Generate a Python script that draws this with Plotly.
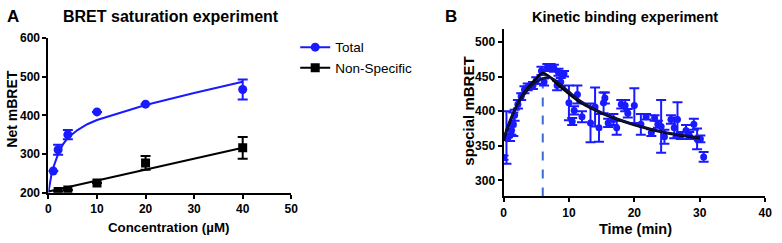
import plotly.graph_objects as go

# ---------------- Panel A data ----------------
total_x = [1, 2, 4, 10, 20, 40]
total_y = [256, 311, 350, 409, 429, 467]
total_err = [0, 13, 12, 0, 0, 26]

ns_x = [2, 4, 10, 20, 40]
ns_y = [203, 207, 225, 277, 316]
ns_err = [0, 0, 0, 18, 28]

total_fit_x = [0, 0.3, 0.6, 1, 1.5, 2, 3, 4, 6, 8, 10, 15, 20, 30, 40]
total_fit_y = [200, 225, 245, 265, 285, 300, 325, 342, 362, 377, 388, 408, 427, 458, 487]

ns_fit_x = [0, 40]
ns_fit_y = [203, 316]

# ---------------- Panel B data ----------------
kin_t = [0, 0.45, 1, 1.2, 1.5, 1.7, 2.2, 2.7, 3.2, 3.7, 4.5, 5, 5.8, 6.2, 6.7, 7.2,
         7.7, 8.2, 8.4, 8.75, 9.25, 10, 10.5, 10.8, 11.3, 12, 13.3, 14, 14.6, 15.3,
         15.5, 16, 16.8, 17.3, 18, 18.6, 19, 20, 21, 21.8, 22.6, 23.1, 23.6, 24.1,
         24.6, 25.6, 26.1, 26.6, 27.1, 27.9, 28.4, 29.1, 29.6, 30.1, 30.6]
kin_v = [333, 362, 365, 372, 381, 394, 410, 421, 431, 435, 437, 444, 458, 442, 463, 463,
         462, 437, 456, 442, 454, 412, 385, 401, 424, 392, 383, 406, 376, 412,
         419, 383, 388, 376, 410, 408, 397, 408, 381, 392, 369, 390, 381, 378,
         363, 388, 376, 388, 365, 372, 365, 381, 360, 360, 334]
kin_err = [3, 38, 8, 6, 17, 8, 6, 5, 5, 5, 5, 5, 6, 5, 5, 5,
           5, 7, 5, 6, 4, 25, 5, 6, 13, 8, 28, 28, 20, 15,
           8, 6, 8, 10, 6, 8, 6, 25, 15, 4, 5, 4, 5, 38,
           10, 6, 15, 25, 5, 8, 5, 8, 15, 5, 7]

fit1_t = [0, 0.5, 1, 2, 3, 4, 5, 6, 7, 8, 10, 12, 15, 20, 25, 30]
fit1_v = [357, 372, 385, 408, 425, 437, 447, 455, 450, 441, 425, 411, 397, 380, 368, 361]
fit2_t = [0, 0.5, 1, 2, 3, 4, 5, 6, 7, 8, 10, 12, 15, 20, 25, 30]
fit2_v = [360, 374, 387, 407, 422, 434, 442, 447, 449, 444, 428, 413, 398, 381, 369, 362]

dash_t = [6, 6]
dash_v = [277, 449]

BLUE = "#1a1aff"
FONT = "Liberation Sans"

fig = go.Figure()

# Panel A
fig.add_trace(go.Scatter(x=total_fit_x, y=total_fit_y, mode="lines",
                         line=dict(color=BLUE, width=2), showlegend=False,
                         xaxis="x", yaxis="y"))
fig.add_trace(go.Scatter(x=ns_fit_x, y=ns_fit_y, mode="lines",
                         line=dict(color="black", width=2), showlegend=False,
                         xaxis="x", yaxis="y"))
fig.add_trace(go.Scatter(x=total_x, y=total_y, mode="markers",
                         marker=dict(color=BLUE, size=9, symbol="circle"),
                         error_y=dict(type="data", array=total_err, color=BLUE,
                                      thickness=2, width=5),
                         showlegend=False, xaxis="x", yaxis="y"))
fig.add_trace(go.Scatter(x=ns_x, y=ns_y, mode="markers",
                         marker=dict(color="black", size=9, symbol="square"),
                         error_y=dict(type="data", array=ns_err, color="black",
                                      thickness=2, width=5),
                         showlegend=False, xaxis="x", yaxis="y"))
# legend entries
fig.add_trace(go.Scatter(x=[None], y=[None], mode="lines+markers", name="Total",
                         line=dict(color=BLUE, width=2),
                         marker=dict(color=BLUE, size=9, symbol="circle"),
                         xaxis="x", yaxis="y"))
fig.add_trace(go.Scatter(x=[None], y=[None], mode="lines+markers", name="Non-Specific",
                         line=dict(color="black", width=2),
                         marker=dict(color="black", size=9, symbol="square"),
                         xaxis="x", yaxis="y"))

# Panel B
fig.add_trace(go.Scatter(x=dash_t, y=dash_v, mode="lines",
                         line=dict(color="#3a6ad6", width=2, dash="dash"),
                         showlegend=False, xaxis="x2", yaxis="y2"))
fig.add_trace(go.Scatter(x=kin_t, y=kin_v, mode="markers",
                         marker=dict(color=BLUE, size=7, symbol="circle"),
                         error_y=dict(type="data", array=kin_err, color=BLUE,
                                      thickness=2, width=5),
                         showlegend=False, xaxis="x2", yaxis="y2"))
fig.add_trace(go.Scatter(x=fit1_t, y=fit1_v, mode="lines", line_shape="spline",
                         line=dict(color="black", width=2.5),
                         showlegend=False, xaxis="x2", yaxis="y2"))
fig.add_trace(go.Scatter(x=fit2_t, y=fit2_v, mode="lines", line_shape="spline",
                         line=dict(color="#101040", width=2.5),
                         showlegend=False, xaxis="x2", yaxis="y2"))

W, H = 782, 243
def px(x):
    return x / W
def py(y):
    return 1 - y / H

axis_common = dict(showgrid=False, zeroline=False, showline=True, linecolor="black",
                   linewidth=2, ticks="outside", ticklen=4, tickwidth=2, tickcolor="black",
                   tickfont=dict(family=FONT, size=12, color="black", weight="bold"))

fig.update_layout(
    width=W, height=H,
    margin=dict(l=0, r=0, t=0, b=0),
    paper_bgcolor="white", plot_bgcolor="white",
    font=dict(family=FONT, color="black"),
    xaxis=dict(domain=[px(46), px(292)], range=[0, 50], dtick=10, anchor="y", **axis_common),
    yaxis=dict(domain=[py(197), py(33)], range=[200, 600], dtick=100, anchor="x", **axis_common),
    xaxis2=dict(domain=[px(507), px(772)], range=[0, 40], dtick=10, anchor="y2", **axis_common),
    yaxis2=dict(domain=[py(201), py(23)], range=[277, 519], tickvals=[300, 350, 400, 450, 500],
                anchor="x2", **axis_common),
    legend=dict(x=px(296), y=py(54), xanchor="left", yanchor="middle",
                font=dict(family=FONT, size=13.5, color="black"),
                bgcolor="rgba(0,0,0,0)", itemwidth=30, tracegroupgap=0),
    showlegend=True,
)

ann = [
    dict(text="<b>A</b>", x=px(2), y=py(10), xanchor="left", yanchor="middle", size=17),
    dict(text="<b>BRET saturation experiment</b>", x=px(170), y=py(10), xanchor="center", yanchor="middle", size=16),
    dict(text="<b>B</b>", x=px(446), y=py(10), xanchor="left", yanchor="middle", size=17),
    dict(text="<b>Kinetic binding experiment</b>", x=px(630), y=py(11), xanchor="center", yanchor="middle", size=14.5),
    dict(text="<b>Concentration (µM)</b>", x=px(168), y=py(234), xanchor="center", yanchor="middle", size=13.3),
    dict(text="<b>Time (min)</b>", x=px(641), y=py(236), xanchor="center", yanchor="middle", size=14.5),
]
annotations = []
for a in ann:
    annotations.append(dict(text=a["text"], x=a["x"], y=a["y"], xref="paper", yref="paper",
                            xanchor=a["xanchor"], yanchor=a["yanchor"], showarrow=False,
                            font=dict(family=FONT, size=a["size"], color="black")))
annotations.append(dict(text="<b>Net mBRET</b>", x=px(9), y=py(108), xref="paper", yref="paper",
                        textangle=-90, showarrow=False, xanchor="center", yanchor="middle",
                        font=dict(family=FONT, size=14, color="black")))
annotations.append(dict(text="<b>special mBRET</b>", x=px(472), y=py(110), xref="paper", yref="paper",
                        textangle=-90, showarrow=False, xanchor="center", yanchor="middle",
                        font=dict(family=FONT, size=15, color="black")))
fig.update_layout(annotations=annotations)

fig.write_html("out.html", config={"displayModeBar": False},
               post_script="document.body.style.margin='0';document.body.style.padding='0';")
